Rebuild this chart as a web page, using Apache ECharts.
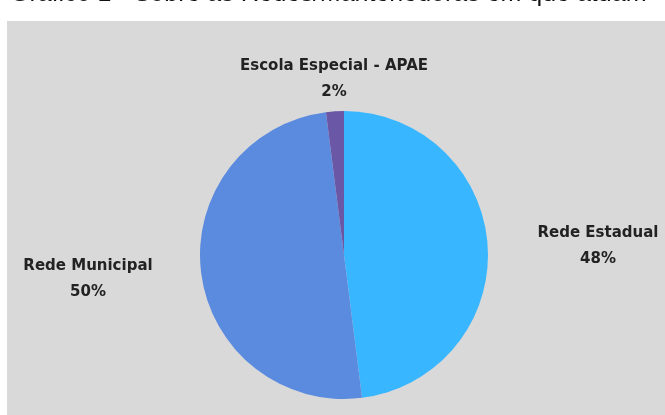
<!DOCTYPE html>
<html>
<head>
<meta charset="utf-8">
<script src="https://cdn.jsdelivr.net/npm/echarts@6/dist/echarts.min.js"></script>
<style>
  html, body { margin: 0; padding: 0; background: #ffffff; }
  #chart { width: 665px; height: 415px; }
</style>
</head>
<body>
<div id="chart"></div>
<script>
// Networks / sponsoring bodies where respondents work (percent)
const categories = ['Rede Estadual', 'Rede Municipal', 'Escola Especial - APAE'];
const values = [48, 50, 2];
const sliceColors = ['#38b6ff', '#5b8bdf', '#6a57a6'];

// Where each slice's label block is centred
const labelSpots = [
  { x: 598, y: 246 },
  { x: 88, y: 279 },
  { x: 334, y: 79 }
];

const chart = echarts.init(document.getElementById('chart'), null, { renderer: 'canvas' });

chart.setOption({
  backgroundColor: '#ffffff',
  animation: false,
  graphic: [
    {
      type: 'rect',
      z: -10,
      silent: true,
      shape: { x: 7, y: 21, width: 670, height: 400 },
      style: { fill: '#d9d9d9' }
    },
    {
      type: 'text',
      z: -5,
      silent: true,
      x: 10,
      y: 7,
      style: {
        text: 'Gráfico 1 - Sobre as Redes/Mantenedoras em que atuam',
        fill: '#111111',
        font: '25px "Liberation Sans", Arial, sans-serif',
        verticalAlign: 'bottom'
      }
    }
  ],
  series: [
    {
      type: 'pie',
      center: [344, 255],
      radius: 144,
      startAngle: 90,
      clockwise: true,
      data: categories.map((name, i) => ({
        name: name,
        value: values[i],
        itemStyle: { color: sliceColors[i] }
      })),
      label: {
        show: true,
        position: 'outside',
        formatter: '{b}\n{d}%',
        color: '#222222',
        fontFamily: '"DejaVu Sans", sans-serif',
        fontWeight: 'bold',
        fontSize: 15,
        lineHeight: 26,
        align: 'center',
        overflow: 'none',
        width: 220
      },
      labelLine: { show: false },
      labelLayout: function (params) {
        const p = labelSpots[params.dataIndex];
        return { x: p.x, y: p.y, align: 'center', verticalAlign: 'middle' };
      },
      emphasis: { disabled: true }
    }
  ]
});
</script>
</body>
</html>
